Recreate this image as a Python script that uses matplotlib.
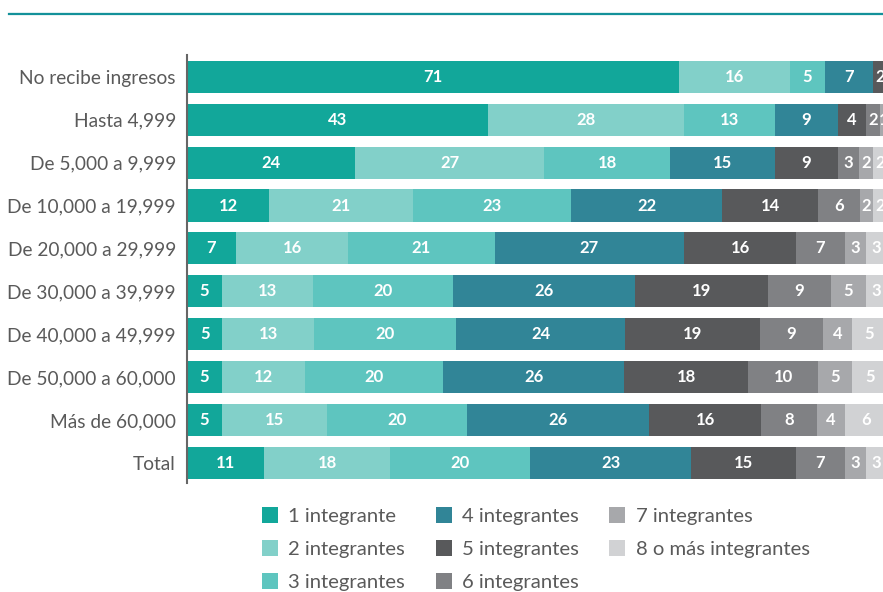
import numpy as np
import matplotlib.pyplot as plt
from matplotlib.patches import Patch
from matplotlib.lines import Line2D

plt.rcParams['font.family'] = ['Lato', 'DejaVu Sans']

categories = ['No recibe ingresos', 'Hasta 4,999', 'De 5,000 a 9,999',
              'De 10,000 a 19,999', 'De 20,000 a 29,999', 'De 30,000 a 39,999',
              'De 40,000 a 49,999', 'De 50,000 a 60,000', 'Más de 60,000', 'Total']

series = ['1 integrante', '2 integrantes', '3 integrantes', '4 integrantes',
          '5 integrantes', '6 integrantes', '7 integrantes', '8 o más integrantes']

# one list per series, same order as categories
s1 = [71, 43, 24, 12, 7, 5, 5, 5, 5, 11]
s2 = [16, 28, 27, 21, 16, 13, 13, 12, 15, 18]
s3 = [5, 13, 18, 23, 21, 20, 20, 20, 20, 20]
s4 = [7, 9, 15, 22, 27, 26, 24, 26, 26, 23]
s5 = [2, 4, 9, 14, 16, 19, 19, 18, 16, 15]
s6 = [0, 2, 3, 6, 7, 9, 9, 10, 8, 7]
s7 = [0, 1, 2, 2, 3, 5, 4, 5, 4, 3]
s8 = [0, 0, 2, 2, 3, 3, 5, 5, 6, 3]

colors = ['#12a79a', '#82d0c9', '#5ec5bf', '#318597',
          '#58595b', '#808184', '#a7a8ab', '#d1d2d4']
text_color = '#5a5a5a'

data = np.array([s1, s2, s3, s4, s5, s6, s7, s8], dtype=float)
# bars are drawn as shares of each row total
shares = data / data.sum(axis=0) * 100

fig = plt.figure(figsize=(8.83, 5.92), dpi=100)
ax = fig.add_axes([187 / 883, 1 - 483 / 592, 700 / 883, 428 / 592])

y = np.arange(len(categories))
left = np.zeros(len(categories))
for i in range(len(series)):
    ax.barh(y, shares[i], left=left, height=0.75, color=colors[i],
            label=series[i], linewidth=0)
    for j in range(len(categories)):
        v = data[i, j]
        if v > 0:
            ax.text(left[j] + shares[i, j] / 2, y[j], '%d' % v,
                    ha='center', va='center', color='white',
                    fontsize=12, fontweight='bold')
    left += shares[i]

ax.set_xlim(0, 100)
ax.set_ylim(9.47, -0.51)
ax.set_yticks(y)
ax.set_yticklabels(categories, fontsize=13.8, color=text_color)
ax.tick_params(axis='y', length=0, pad=8)
ax.set_xticks([])
for s in ['top', 'right', 'bottom']:
    ax.spines[s].set_visible(False)
ax.spines['left'].set_color('#666666')
ax.spines['left'].set_linewidth(1.5)

# teal rule across the top
fig.add_artist(Line2D([9 / 883, 1], [1 - 12.5 / 592] * 2, color='#5fb9bd', lw=0.8))
fig.add_artist(Line2D([9 / 883, 1], [1 - 14.3 / 592] * 2, color='#13919a', lw=1.6))

handles = [Patch(facecolor=c, edgecolor='none') for c in colors]
leg = fig.legend(handles, series, ncol=3, loc='upper left',
                 bbox_to_anchor=(262 / 883, 1 - 507 / 592), frameon=False,
                 prop={'size': 14.6},
                 labelcolor=text_color, handlelength=0.8,
                 handleheight=0.8, handletextpad=0.5, columnspacing=1.5,
                 labelspacing=0.75, borderpad=0, borderaxespad=0)

fig.savefig('out.png', dpi=100)
